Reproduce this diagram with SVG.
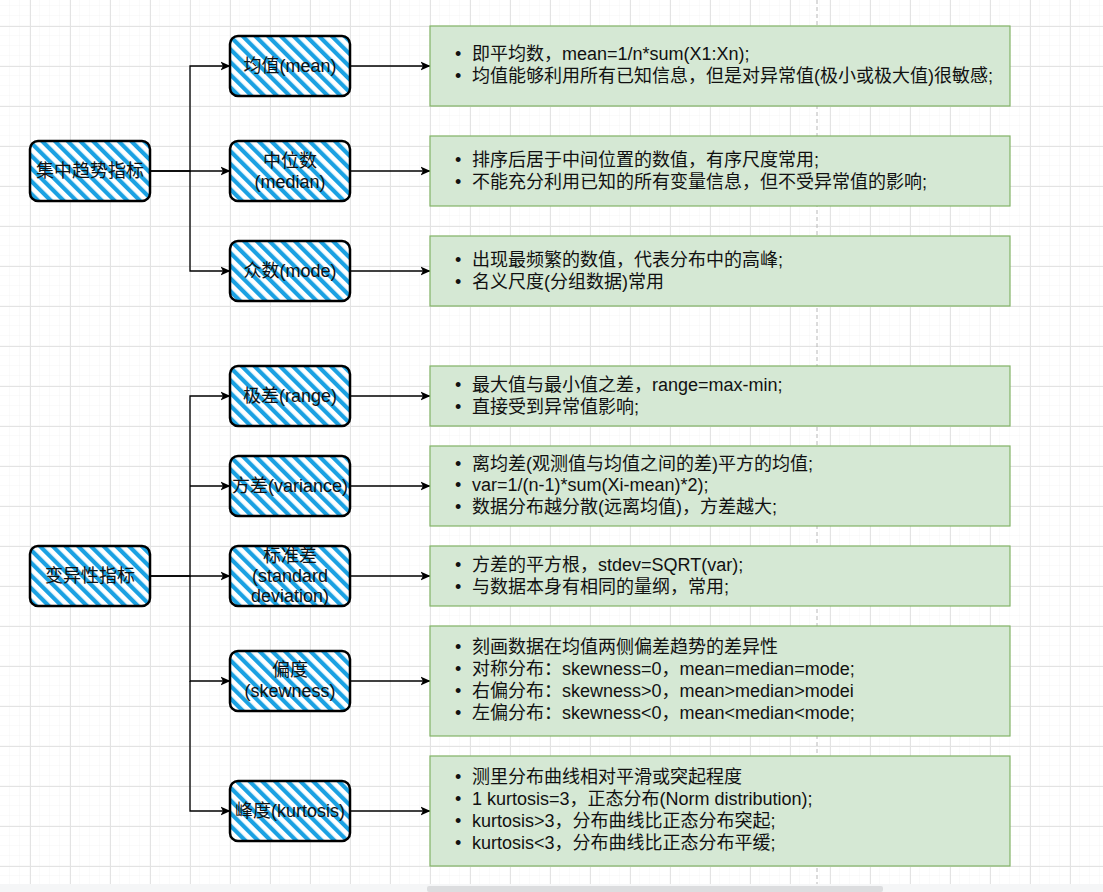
<svg xmlns="http://www.w3.org/2000/svg" width="1103" height="892" viewBox="0 0 1103 892">
<defs>
<pattern id="minor" width="10" height="10" patternUnits="userSpaceOnUse" x="0" y="6">
<path d="M10 0V10M0 10H10" fill="none" stroke="#f4f4f4" stroke-width="1"/>
</pattern>
<pattern id="major" width="40" height="40" patternUnits="userSpaceOnUse" x="30" y="26">
<path d="M0.5 0V40M0 0.5H40" fill="none" stroke="#e3e3e3" stroke-width="1"/>
</pattern>
<pattern id="hatch" width="9" height="9" patternUnits="userSpaceOnUse" patternTransform="rotate(-45)">
<rect width="9" height="9" fill="#ffffff"/>
<rect x="0" y="0" width="4.2" height="9" fill="#1ba1e2"/>
</pattern>
<marker id="arr" viewBox="0 0 10 10" refX="9.5" refY="5" markerWidth="10" markerHeight="10" markerUnits="userSpaceOnUse" orient="auto">
<path d="M0 0.5L10 5L0 9.5L2.5 5Z" fill="#000"/>
</marker>
<style>
.node rect{fill:url(#hatch);stroke:#000;stroke-width:2.5}
.node text{font-family:"Liberation Sans","Noto Sans CJK SC",sans-serif;font-size:18px;fill:#111;text-anchor:middle}
.box rect{fill:#d5e8d4;stroke:#82b366;stroke-width:1.2}
.box text{font-family:"Liberation Sans","Noto Sans CJK SC",sans-serif;font-size:18px;fill:#111}
.conn path{fill:none;stroke:#000;stroke-width:1.3}
</style>
</defs>
<rect width="1103" height="884" fill="#ffffff"/>
<rect width="1103" height="884" fill="url(#minor)"/>
<rect width="1103" height="884" fill="url(#major)"/>
<line x1="817" y1="0" x2="817" y2="884" stroke="#b8b8b8" stroke-width="1" stroke-dasharray="4 3"/>
<rect x="0" y="884" width="1103" height="8" fill="#f5f6f7"/>
<rect x="427" y="886" width="456" height="6" rx="2" fill="#dcdddf"/>

<g class="conn">
<path d="M150 171H190V66H230" marker-end="url(#arr)"/>
<path d="M150 171H230" marker-end="url(#arr)"/>
<path d="M190 171V271H230" marker-end="url(#arr)"/>
<path d="M350 66H430" marker-end="url(#arr)"/>
<path d="M350 171H430" marker-end="url(#arr)"/>
<path d="M350 271H430" marker-end="url(#arr)"/>
<path d="M150 576H190V396H230" marker-end="url(#arr)"/>
<path d="M190 486H230" marker-end="url(#arr)"/>
<path d="M150 576H230" marker-end="url(#arr)"/>
<path d="M190 576V681H230" marker-end="url(#arr)"/>
<path d="M190 681V811H230" marker-end="url(#arr)"/>
<path d="M350 396H430" marker-end="url(#arr)"/>
<path d="M350 486H430" marker-end="url(#arr)"/>
<path d="M350 576H430" marker-end="url(#arr)"/>
<path d="M350 681H430" marker-end="url(#arr)"/>
<path d="M350 811H430" marker-end="url(#arr)"/>
</g>

<g id="n-jizhong" class="node"><rect x="30" y="141" width="120" height="60" rx="8"/><text x="90" y="177">集中趋势指标</text></g>
<g id="n-mean" class="node"><rect x="230" y="36" width="120" height="60" rx="8"/><text x="290" y="72">均值(mean)</text></g>
<g id="n-median" class="node"><rect x="230" y="141" width="120" height="60" rx="8"/><text x="290" y="167">中位数</text><text x="290" y="188">(median)</text></g>
<g id="n-mode" class="node"><rect x="230" y="241" width="120" height="60" rx="8"/><text x="290" y="277">众数(mode)</text></g>
<g id="n-bianyi" class="node"><rect x="30" y="546" width="120" height="60" rx="8"/><text x="90" y="582">变异性指标</text></g>
<g id="n-range" class="node"><rect x="230" y="366" width="120" height="60" rx="8"/><text x="290" y="402">极差(range)</text></g>
<g id="n-variance" class="node"><rect x="230" y="456" width="120" height="60" rx="8"/><text x="290" y="492">方差(variance)</text></g>
<g id="n-std" class="node"><rect x="230" y="546" width="120" height="60" rx="8"/><text x="290" y="562">标准差</text><text x="290" y="582">(standard</text><text x="290" y="602">deviation)</text></g>
<g id="n-skew" class="node"><rect x="230" y="651" width="120" height="60" rx="8"/><text x="290" y="676">偏度</text><text x="290" y="697">(skewness)</text></g>
<g id="n-kurt" class="node"><rect x="230" y="781" width="120" height="60" rx="8"/><text x="290" y="817">峰度(kurtosis)</text></g>

<g id="b-mean" class="box"><rect x="430" y="26" width="580" height="80"/>
<text x="455" y="60">•</text><text x="472" y="60">即平均数，mean=1/n*sum(X1:Xn);</text>
<text x="455" y="82">•</text><text x="472" y="82">均值能够利用所有已知信息，但是对异常值(极小或极大值)很敏感;</text></g>
<g id="b-median" class="box"><rect x="430" y="136" width="580" height="70"/>
<text x="455" y="166">•</text><text x="472" y="166">排序后居于中间位置的数值，有序尺度常用;</text>
<text x="455" y="188">•</text><text x="472" y="188">不能充分利用已知的所有变量信息，但不受异常值的影响;</text></g>
<g id="b-mode" class="box"><rect x="430" y="236" width="580" height="70"/>
<text x="455" y="266">•</text><text x="472" y="266">出现最频繁的数值，代表分布中的高峰;</text>
<text x="455" y="288">•</text><text x="472" y="288">名义尺度(分组数据)常用</text></g>
<g id="b-range" class="box"><rect x="430" y="366" width="580" height="60"/>
<text x="455" y="391">•</text><text x="472" y="391">最大值与最小值之差，range=max-min;</text>
<text x="455" y="413">•</text><text x="472" y="413">直接受到异常值影响;</text></g>
<g id="b-variance" class="box"><rect x="430" y="446" width="580" height="80"/>
<text x="455" y="470">•</text><text x="472" y="470">离均差(观测值与均值之间的差)平方的均值;</text>
<text x="455" y="491">•</text><text x="472" y="491">var=1/(n-1)*sum(Xi-mean)*2);</text>
<text x="455" y="513">•</text><text x="472" y="513">数据分布越分散(远离均值)，方差越大;</text></g>
<g id="b-std" class="box"><rect x="430" y="546" width="580" height="60"/>
<text x="455" y="571">•</text><text x="472" y="571">方差的平方根，stdev=SQRT(var);</text>
<text x="455" y="593">•</text><text x="472" y="593">与数据本身有相同的量纲，常用;</text></g>
<g id="b-skew" class="box"><rect x="430" y="626" width="580" height="110"/>
<text x="455" y="653">•</text><text x="472" y="653">刻画数据在均值两侧偏差趋势的差异性</text>
<text x="455" y="675">•</text><text x="472" y="675">对称分布：skewness=0，mean=median=mode;</text>
<text x="455" y="697">•</text><text x="472" y="697">右偏分布：skewness&gt;0，mean&gt;median&gt;modei</text>
<text x="455" y="719">•</text><text x="472" y="719">左偏分布：skewness&lt;0，mean&lt;median&lt;mode;</text></g>
<g id="b-kurt" class="box"><rect x="430" y="756" width="580" height="110"/>
<text x="455" y="783">•</text><text x="472" y="783">测里分布曲线相对平滑或突起程度</text>
<text x="455" y="805">•</text><text x="472" y="805">1 kurtosis=3，正态分布(Norm distribution);</text>
<text x="455" y="827">•</text><text x="472" y="827">kurtosis&gt;3，分布曲线比正态分布突起;</text>
<text x="455" y="849">•</text><text x="472" y="849">kurtosis&lt;3，分布曲线比正态分布平缓;</text></g>
</svg>
